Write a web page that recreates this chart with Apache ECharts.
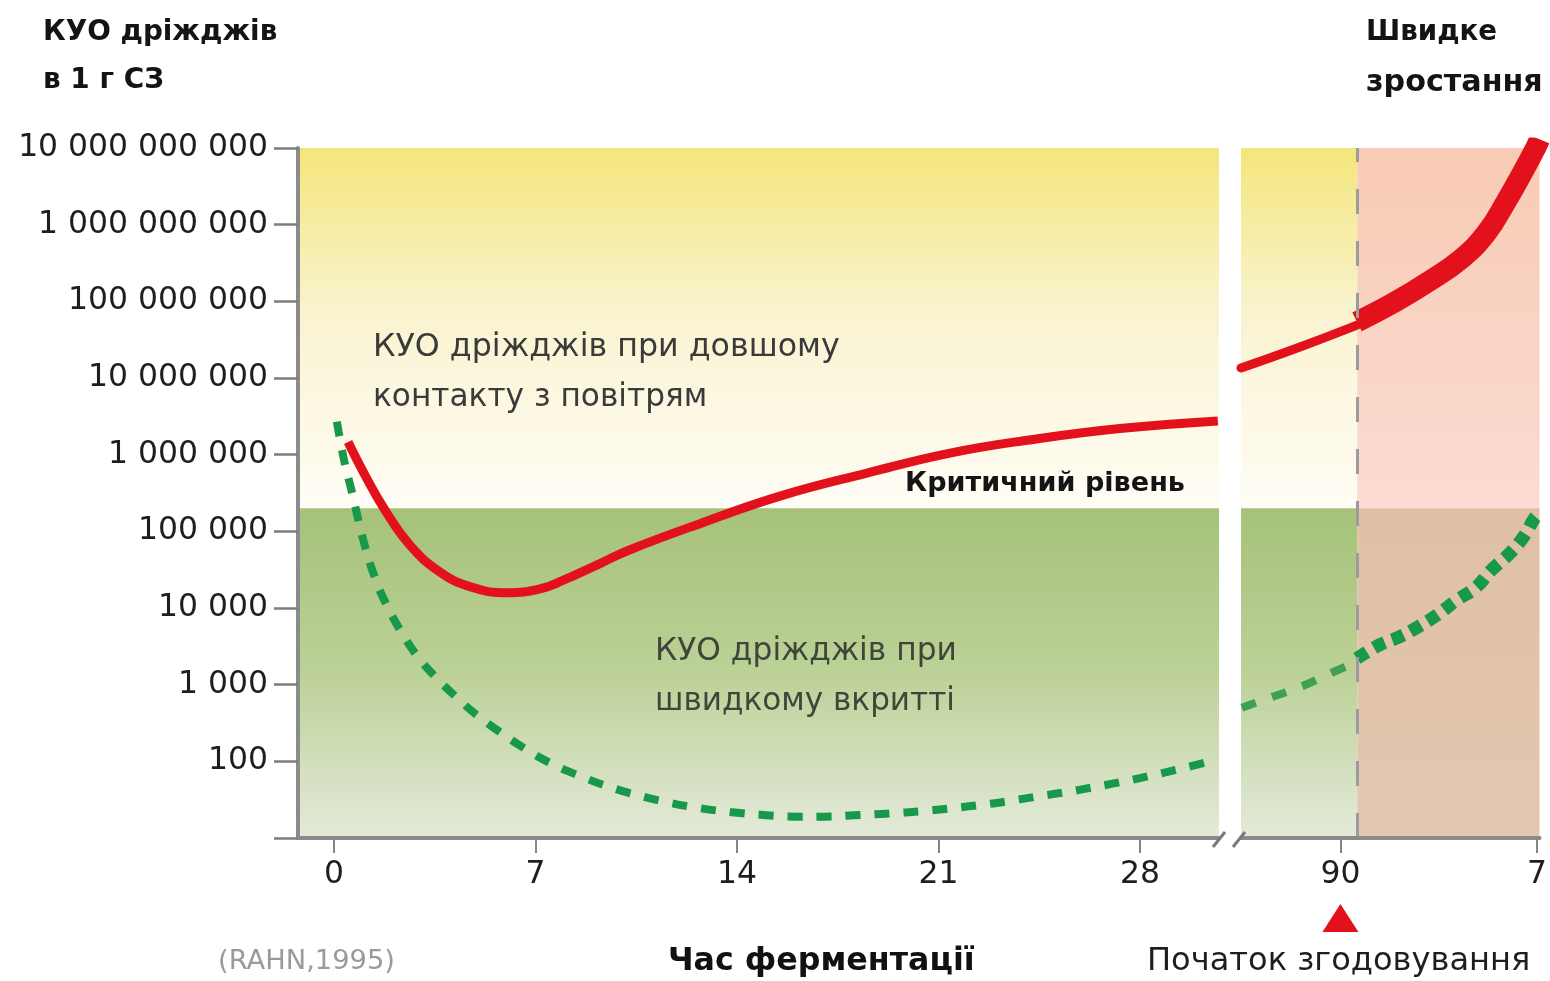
<!DOCTYPE html>
<html><head><meta charset="utf-8">
<script src="https://cdn.jsdelivr.net/npm/echarts@6/dist/echarts.min.js"></script>
<style>html,body{margin:0;padding:0;background:#fff}#c{width:1550px;height:981px}</style>
</head><body><div id="c"></div>
<script>
// ---------------- data ----------------
const dayTicksLeft = [0, 7, 14, 21, 28];
const dayTickLabelsLeft = ['0', '7', '14', '21', '28'];
const dayTicksRight = [90, 97];
const dayTickLabelsRight = ['90', '7'];
// labels for 10^1 .. 10^10
const yTickLabels = ['', '100', '1 000', '10 000', '100 000', '1 000 000', '10 000 000',
  '100 000 000', '1 000 000 000', '10 000 000 000'];
const criticalLevel = 2e5;
const feedingStart = 90;
const rapidGrowthStart = 90.6;

// longer air contact (red, solid)
const redLeftDays = [0.49, 1.08, 1.77, 2.64, 3.68, 4.72, 6.01, 7.16, 7.95, 9.24, 10.28, 12.71, 15.49, 18.51, 21.40, 24.28, 27.30, 30.70];
const redLeftCfu = [1.46e6, 5.37e5, 1.9e5, 6.6e4, 2.95e4, 1.9e4, 1.58e4, 1.78e4, 2.29e4, 3.8e4, 5.75e4, 1.26e5, 2.88e5, 5.75e5, 1.05e6, 1.58e6, 2.19e6, 2.75e6];
const redRightDays = [86.46, 88.51, 90.59];
const redRightCfu = [1.35e7, 2.5e7, 4.9e7];
const redGrowthDays = [90.59, 91.98, 93.13, 94.31, 95.21, 95.90, 96.50, 96.95, 97.09];
const redGrowthCfu = [5.4e7, 1.0e8, 1.8e8, 3.6e8, 7.9e8, 2.0e9, 4.9e9, 1.0e10, 1.3e10];

// quick sealing (green, dashed)
const greenLeftDays = [0.10, 0.35, 0.63, 1.01, 1.42, 1.88, 2.40, 2.92, 3.58, 4.27, 4.97, 5.77, 6.70, 7.61, 8.65, 9.59, 10.63, 11.67, 12.71, 13.75, 14.90, 16.08, 17.0, 18.27, 19.31, 20.42, 21.47, 22.44, 23.41, 24.42, 25.46, 26.50, 27.47, 28.45, 29.45, 30.43];
const greenLeftCfu = [2.7e6, 8.5e5, 3.16e5, 7.9e4, 2.5e4, 1.0e4, 4470, 2290, 1200, 676, 398, 240, 141, 91, 62, 46, 35.5, 28.8, 24.5, 21.9, 20, 19, 19, 20, 20.9, 22.4, 24.5, 26.9, 30.2, 34.7, 39.8, 46.8, 55, 66, 81, 100];
const greenRightDays = [86.49, 87.46, 88.58, 89.65, 90.59];
const greenRightCfu = [500, 670, 935, 1410, 2000];
const greenGrowthDays = [90.59, 91.39, 92.08, 92.74, 93.44, 94.13, 94.83, 95.38, 96.04, 96.56, 96.91, 97.09];
const greenGrowthCfu = [2200, 3300, 4170, 5600, 8100, 12600, 18600, 31300, 52000, 89000, 148000, 170000];

// ---------------- layout / style ----------------
const FONT = "'DejaVu Sans', sans-serif";
const leftRange = [-1.25, 30.74];
const rightRange = [86.46, 97.09];
const yRange = [10, 1e10];
const G0 = {left: 298, right: 331, top: 148, bottom: 143};
const G1 = {left: 1241, right: 3, top: 148, bottom: 143};
const RED = '#e2111b', GREEN = '#17984a', GREEN2 = '#3f9f55';

const ctx = document.createElement('canvas').getContext('2d');
function fit(text, weight, target, base) {
  ctx.font = weight + ' ' + base + 'px ' + FONT;
  const w = ctx.measureText(text).width;
  return Math.max(base * 0.8, Math.min(base * 1.2, base * target / w));
}
const axisFont = fit('10 000 000 000', 'normal', 250, 30);
const xFont = axisFont;

const zip = (a, b) => a.map((v, i) => [v, b[i]]);
const grad = (stops) => new echarts.graphic.LinearGradient(0, 0, 0, 1, stops.map((c) => ({offset: c[0], color: c[1]})));
const yellowGrad = () => grad([[0, '#f4e67a'], [0.45, '#f9f3cf'], [1, '#fffdf6']]);
const greenGrad = () => grad([[0, '#a6c279'], [0.5, '#bcd197'], [1, '#e4eada']]);
const pinkGrad = () => grad([[0, '#f8cbb4'], [1, '#fbdbd2']]);
const tanGrad = () => grad([[0, '#dfc0a7'], [1, '#e4c7b1']]);

const chart = echarts.init(document.getElementById('c'), null, {renderer: 'canvas'});

const yAxisCommon = {
  type: 'log', logBase: 10, min: yRange[0], max: yRange[1], splitNumber: 9,
  splitLine: {show: false}, z: 6
};
const xAxisLine = {show: true, onZero: false, lineStyle: {color: '#8b8b8b', width: 4}};
const lineBase = {type: 'line', showSymbol: false, symbol: 'none', smooth: 0.45, silent: true, z: 3};

chart.setOption({
  animation: false,
  backgroundColor: '#ffffff',
  grid: [G0, G1],
  xAxis: [
    {gridIndex: 0, type: 'value', min: leftRange[0], max: leftRange[1], z: 6,
      axisLine: xAxisLine,
      axisTick: {show: true, length: 15, customValues: dayTicksLeft, lineStyle: {color: '#858585', width: 2}},
      axisLabel: {customValues: dayTicksLeft, margin: 21, fontSize: xFont, fontFamily: FONT, color: '#1e1e1e',
        formatter: v => dayTickLabelsLeft[dayTicksLeft.indexOf(v)]},
      splitLine: {show: false}},
    {gridIndex: 1, type: 'value', min: rightRange[0], max: rightRange[1], z: 6,
      axisLine: xAxisLine,
      axisTick: {show: true, length: 15, customValues: dayTicksRight, lineStyle: {color: '#858585', width: 2}},
      axisLabel: {customValues: dayTicksRight, margin: 21, fontSize: xFont, fontFamily: FONT, color: '#1e1e1e',
        formatter: v => dayTickLabelsRight[dayTicksRight.indexOf(v)]},
      splitLine: {show: false}}
  ],
  yAxis: [
    Object.assign({gridIndex: 0,
      axisLine: {show: true, onZero: false, lineStyle: {color: '#8b8b8b', width: 4}},
      axisTick: {show: true, length: 24, lineStyle: {color: '#7d7d7d', width: 2.5}},
      axisLabel: {margin: 30, fontSize: axisFont, fontFamily: FONT, color: '#1e1e1e',
        formatter: v => yTickLabels[Math.round(Math.log10(v)) - 1]}}, yAxisCommon),
    Object.assign({gridIndex: 1, show: false, axisLine: {onZero: false}}, yAxisCommon)
  ],
  series: [
    // backgrounds, left panel
    {type: 'line', xAxisIndex: 0, yAxisIndex: 0, data: [], z: 1, silent: true,
      markArea: {silent: true, label: {show: false}, emphasis: {disabled: true},
        data: [
          [{yAxis: criticalLevel, itemStyle: {color: yellowGrad(), opacity: 1}}, {yAxis: yRange[1]}],
          [{yAxis: yRange[0], itemStyle: {color: greenGrad(), opacity: 1}}, {yAxis: criticalLevel}]
        ]}},
    // backgrounds, right panel
    {type: 'line', xAxisIndex: 1, yAxisIndex: 1, data: [], z: 1, silent: true,
      markArea: {silent: true, label: {show: false}, emphasis: {disabled: true},
        data: [
          [{xAxis: rightRange[0], yAxis: criticalLevel, itemStyle: {color: yellowGrad(), opacity: 1}}, {xAxis: rapidGrowthStart, yAxis: yRange[1]}],
          [{xAxis: rightRange[0], yAxis: yRange[0], itemStyle: {color: greenGrad(), opacity: 1}}, {xAxis: rapidGrowthStart, yAxis: criticalLevel}],
          [{xAxis: rapidGrowthStart, yAxis: criticalLevel, itemStyle: {color: pinkGrad(), opacity: 1}}, {xAxis: rightRange[1], yAxis: yRange[1]}],
          [{xAxis: rapidGrowthStart, yAxis: yRange[0], itemStyle: {color: tanGrad(), opacity: 1}}, {xAxis: rightRange[1], yAxis: criticalLevel}]
        ]},
      markLine: {silent: true, symbol: ['none', 'none'], label: {show: false}, emphasis: {disabled: true},
        lineStyle: {color: '#9c9c9c', width: 3, type: [25, 27]},
        data: [{xAxis: rapidGrowthStart}]}},
    Object.assign({}, lineBase, {name: 'green-left', xAxisIndex: 0, yAxisIndex: 0, data: zip(greenLeftDays, greenLeftCfu),
      lineStyle: {color: GREEN, width: 8, type: [15, 14]}}),
    Object.assign({}, lineBase, {name: 'red-left', xAxisIndex: 0, yAxisIndex: 0, data: zip(redLeftDays, redLeftCfu),
      lineStyle: {color: RED, width: 9}}),
    Object.assign({}, lineBase, {name: 'green-right', xAxisIndex: 1, yAxisIndex: 1, data: zip(greenRightDays, greenRightCfu),
      lineStyle: {color: GREEN2, width: 8, type: [15, 17]}}),
    Object.assign({}, lineBase, {name: 'green-growth', xAxisIndex: 1, yAxisIndex: 1, data: zip(greenGrowthDays, greenGrowthCfu),
      lineStyle: {color: GREEN, width: 13, type: [12, 8]}}),
    Object.assign({}, lineBase, {name: 'red-right', xAxisIndex: 1, yAxisIndex: 1, data: zip(redRightDays, redRightCfu),
      lineStyle: {color: RED, width: 9, cap: 'round'}}),
    Object.assign({}, lineBase, {name: 'red-growth', xAxisIndex: 1, yAxisIndex: 1, data: zip(redGrowthDays, redGrowthCfu),
      lineStyle: {color: RED, width: 21}})
  ]
});

// ---------------- texts & decorations ----------------
const texts = [
  {t: 'КУО дріжджів', x: 43, y: 33, w: 234, weight: 'bold', s: 28, c: '#141414'},
  {t: 'в 1 г СЗ', x: 43, y: 81, w: 121, weight: 'bold', s: 28, c: '#141414'},
  {t: 'Швидке', x: 1366, y: 33, w: 131, weight: 'bold', s: 28, c: '#141414'},
  {t: 'зростання', x: 1366, y: 83, w: 177, weight: 'bold', s: 28, c: '#141414'},
  {t: 'КУО дріжджів при довшому', x: 373, y: 348, w: 467, weight: 'normal', s: 30, c: '#3a3a3a'},
  {t: 'контакту з повітрям', x: 373, y: 398, w: 334, weight: 'normal', s: 30, c: '#3a3a3a'},
  {t: 'КУО дріжджів при', x: 655, y: 652, w: 302, weight: 'normal', s: 30, c: '#3d4739'},
  {t: 'швидкому вкритті', x: 655, y: 702, w: 300, weight: 'normal', s: 30, c: '#3d4739'},
  {t: 'Критичний рівень', x: 905, y: 484, w: 280, weight: 'bold', s: 27, c: '#141414'},
  {t: '(RAHN,1995)', x: 218, y: 962, w: 177, weight: 'normal', s: 28, c: '#9a9a9a'},
  {t: 'Час ферментації', x: 668, y: 962, w: 307, weight: 'bold', s: 30, c: '#111111'},
  {t: 'Початок згодовування', x: 1147, y: 962, w: 383, weight: 'normal', s: 30, c: '#1e1e1e'}
];
const graphics = texts.map((o, i) => ({
  type: 'text', id: 'txt' + i, x: o.x, y: o.y, silent: true, z: 10,
  style: {text: o.t, fill: o.c, font: o.weight + ' ' + fit(o.t, o.weight, o.w, o.s).toFixed(1) + 'px ' + FONT,
    textAlign: 'left', align: 'left', textVerticalAlign: 'middle', verticalAlign: 'middle'}
}));

// red triangle under the feeding-start tick
const tx = chart.convertToPixel({xAxisIndex: 1}, feedingStart);
graphics.push({type: 'polygon', id: 'tri', silent: true, z: 10,
  shape: {points: [[tx - 18, 932], [tx, 904], [tx + 18, 932]]}, style: {fill: RED}});

// axis break marks
const axisY = 981 - G0.bottom;
const b0 = 1550 - G0.right, b1 = G1.left - 2;
[b0, b1].forEach((bx, i) => graphics.push({type: 'line', id: 'brk' + i, silent: true, z: 10,
  shape: {x1: bx - 6, y1: axisY + 9, x2: bx + 6, y2: axisY - 6},
  style: {stroke: '#7a7a7a', lineWidth: 3}}));

chart.setOption({graphic: graphics});
</script></body></html>
